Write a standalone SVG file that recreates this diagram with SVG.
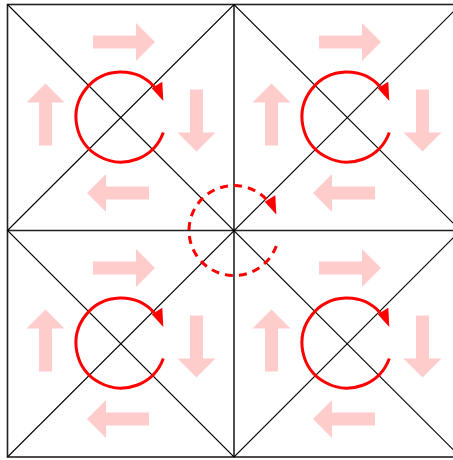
<svg xmlns="http://www.w3.org/2000/svg" xmlns:xlink="http://www.w3.org/1999/xlink" width="453" height="460" viewBox="0 0 453 460">
<style>
.grid{stroke:#222;stroke-width:1.6;fill:none}
.diag{stroke:#000;stroke-width:1.1;fill:none}
.flow{fill:#ffcccc;stroke:none}
.spin{stroke:#ff0000;stroke-width:3;fill:none}
.spin-dash{stroke:#ff0000;stroke-width:3;fill:none;stroke-dasharray:8,6}
.head{fill:#ff0000;stroke:none}
</style>
<defs>
<path id="arr" d="M-31,-6.5 H12 V-19 L31,0 L12,19 V6.5 H-31 Z"/>
<g id="cellflow">
<use xlink:href="#arr" class="flow" transform="translate(3,-75)"/>
<use xlink:href="#arr" class="flow" transform="translate(75.5,3.5) rotate(90)"/>
<use xlink:href="#arr" class="flow" transform="translate(-3,76) rotate(180)"/>
<use xlink:href="#arr" class="flow" transform="translate(-75.5,-2.5) rotate(-90)"/>
</g>
<polygon id="ah" points="30.7,-28.7 41.3,-35.3 42.3,-16"/>
</defs>
<rect width="453" height="460" fill="#fff"/>
<g id="lines">
<rect class="grid" x="7.5" y="4.5" width="453" height="452.5"/>
<line class="grid" x1="234" y1="4.5" x2="234" y2="457"/>
<line class="grid" x1="7.5" y1="230.5" x2="460.5" y2="230.5"/>
<line class="diag" x1="7.5" y1="4.5" x2="460.5" y2="457"/>
<line class="diag" x1="460.5" y1="4.5" x2="7.5" y2="457"/>
<polygon class="diag" points="7.5,230.5 234,4.5 460.5,230.5 234,457"/>
</g>
<g id="cell1" transform="translate(121,117)">
<use xlink:href="#cellflow"/>
<path class="spin" d="M42.3,15.4 A45,45 0 1 1 33.4,-30.1"/>
<use xlink:href="#ah" class="head"/>
</g>
<g id="cell2" transform="translate(347,117)">
<use xlink:href="#cellflow"/>
<path class="spin" d="M42.3,15.4 A45,45 0 1 1 33.4,-30.1"/>
<use xlink:href="#ah" class="head"/>
</g>
<g id="cell3" transform="translate(121,343)">
<use xlink:href="#cellflow"/>
<path class="spin" d="M42.3,15.4 A45,45 0 1 1 33.4,-30.1"/>
<use xlink:href="#ah" class="head"/>
</g>
<g id="cell4" transform="translate(347,343)">
<use xlink:href="#cellflow"/>
<path class="spin" d="M42.3,15.4 A45,45 0 1 1 33.4,-30.1"/>
<use xlink:href="#ah" class="head"/>
</g>
<g id="center" transform="translate(234,230.5)">
<path class="spin-dash" d="M42.3,15.4 A45,45 0 1 1 33.4,-30.1"/>
<use xlink:href="#ah" class="head"/>
</g>
</svg>
